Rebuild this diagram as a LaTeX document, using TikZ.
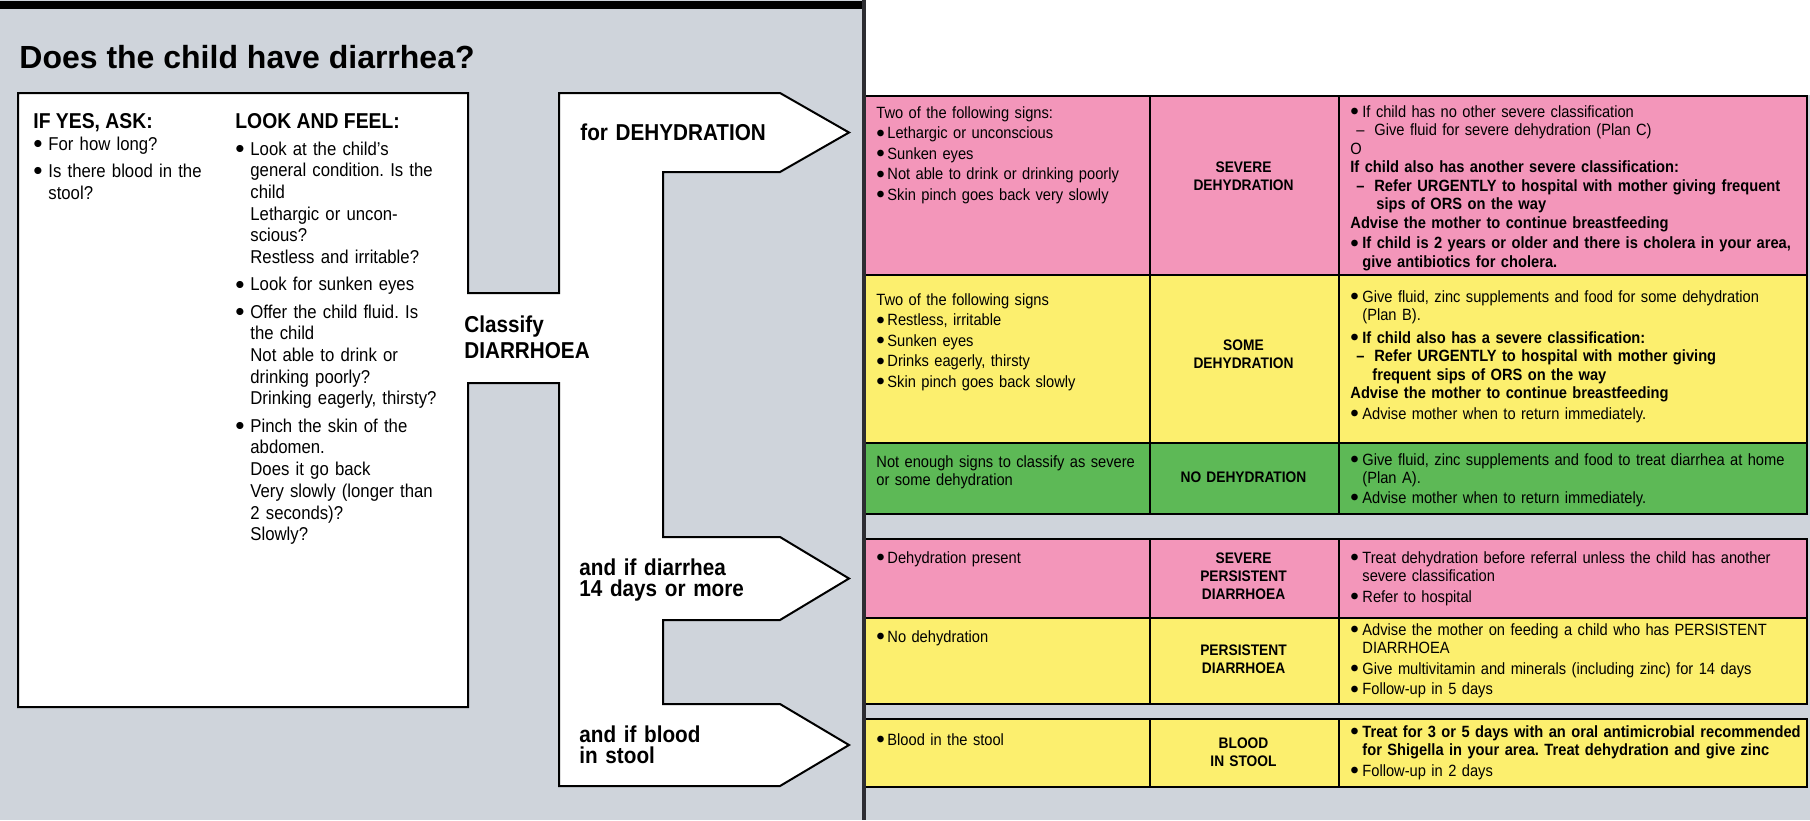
\documentclass[tikz,border=0pt]{standalone}
\usepackage{fontspec}
\setmainfont{Liberation Sans}
\newfontfamily\condfont{Liberation Sans}[FakeStretch=0.9]
\usepackage{tikz}
\frenchspacing

\definecolor{bggrey}{RGB}{207,212,219}
\definecolor{divgrey}{RGB}{45,45,50}
\definecolor{sevpink}{RGB}{243,150,186}
\definecolor{midyellow}{RGB}{252,239,110}
\definecolor{okgreen}{RGB}{93,185,86}

\newcommand{\bigdot}{\raisebox{0.08em}{$\bullet$}}
\newcommand{\lbul}{\makebox[7.5pt][l]{\bigdot}}
\newcommand{\lind}{\hspace*{7.5pt}}
\newcommand{\tbul}{\makebox[5.5pt][l]{\bigdot}}
\newcommand{\cbul}{\makebox[6pt][l]{\bigdot}}
\newcommand{\cind}{\hspace*{6pt}}
\newcommand{\cdash}{\hspace*{3pt}\makebox[9pt][l]{–}}

\tikzset{
	lefthead/.style={anchor=base west, inner sep=0pt, font=\condfont\bfseries\fontsize{10.75}{12}\selectfont},
	lefttxt/.style={anchor=base west, inner sep=0pt, text width=110pt, align=left, font=\condfont\fontsize{9.3}{10.85}\selectfont},
	armtxt/.style={anchor=base west, inner sep=0pt, text width=96pt, align=left, font=\condfont\bfseries\fontsize{11.5}{10.75}\selectfont},
	celltxt/.style={anchor=base west, inner sep=0pt, text width=134pt, align=left, font=\condfont\fontsize{8.15}{9.25}\selectfont},
	treattxt/.style={celltxt, text width=228.5pt},
	classtxt/.style={anchor=base, inner sep=0pt, text width=90pt, align=center, font=\condfont\bfseries\fontsize{7.65}{9.2}\selectfont},
	cellbox/.style={draw=black, line width=1pt},
}

\begin{document}
\begin{tikzpicture}[x=0.5pt, y=-0.5pt]
		\useasboundingbox (0,0) rectangle (1810,820);
		\fill[bggrey] (0,0) rectangle (1810,820);
		\fill[white] (864,0) rectangle (1810,95);
		\fill[black] (0,1) rectangle (864,9);
		
		% question box joined to the three arms
		\draw[line width=1pt, fill=white] (18,93) -| (468,293) -| (559,93) -- (780,93) -- (849,132.5) -- (780,172)
			-| (663,537) -- (780,537) -- (849,578.5) -- (780,620)
			-| (663,704) -- (780,704) -- (849,745) -- (780,786)
			-| (559,383) -| (468,707) -- (18,707) -- cycle;
		
		\fill[sevpink] (864,96) rectangle (1807,275);
		\fill[midyellow] (864,275) rectangle (1807,443);
		\fill[okgreen] (864,443) rectangle (1807,514);
		\fill[sevpink] (864,539) rectangle (1807,618);
		\fill[midyellow] (864,618) rectangle (1807,704);
		\fill[midyellow] (864,719) rectangle (1807,787);
		
		\draw[cellbox] (864,275) -- (1807,275);
		\draw[cellbox] (864,443) -- (1807,443);
		\draw[cellbox] (864,618) -- (1807,618);
		\foreach \ya/\yb in {96/514, 539/704, 719/787} {
			\draw[cellbox] (864,\ya) rectangle (1807,\yb);
			\draw[cellbox] (1149.5,\ya) -- (1149.5,\yb);
			\draw[cellbox] (1338.5,\ya) -- (1338.5,\yb);
		}
		
		\fill[divgrey] (862,0) rectangle (866,820);
		
		\node[anchor=base west, inner sep=0pt, font=\bfseries\fontsize{16}{18}\selectfont] (title) at (19,68) {Does the child have diarrhea?};
		
		\node[lefthead] (askhead) at (33,128) {IF YES, ASK:};
		\node[lefthead] (lookhead) at (235,128) {LOOK AND FEEL:};
		\node[lefttxt, text width=95pt] (asklist) at (33,150) {\lbul For how long?\\[2.8pt]
			\lbul Is there blood in the\\ \lind stool?};
		\node[lefttxt] (looklist) at (235,155) {\lbul Look at the child’s\\ \lind general condition. Is the\\ \lind child\\ \lind Lethargic or uncon-\\ \lind scious?\\ \lind Restless and irritable?\\[2.8pt]
			\lbul Look for sunken eyes\\[2.8pt]
			\lbul Offer the child fluid. Is\\ \lind the child\\ \lind Not able to drink or\\ \lind drinking poorly?\\ \lind Drinking eagerly, thirsty?\\[2.8pt]
			\lbul Pinch the skin of the\\ \lind abdomen.\\ \lind Does it go back\\ \lind Very slowly (longer than\\ \lind 2 seconds)?\\ \lind Slowly?};
		
		\node[armtxt] (fordehyd) at (580,140) {for DEHYDRATION};
		\node[armtxt, text width=66pt, font=\condfont\bfseries\fontsize{11.5}{13.4}\selectfont] (classify) at (464,332) {Classify\\DIARRHOEA};
		\node[armtxt] (ifpersist) at (579,575) {and if diarrhea\\14 days or more};
		\node[armtxt] (ifblood) at (579,742) {and if blood\\in stool};
		
		\node[celltxt] (sevsigns) at (876,118) {Two of the following signs:\\[1pt]
			\tbul Lethargic or unconscious\\[1pt] \tbul Sunken eyes\\[1pt]
			\tbul Not able to drink or drinking poorly\\[1pt] \tbul Skin pinch goes back very slowly};
		\node[classtxt] (sevclass) at (1243.5,172) {SEVERE\\DEHYDRATION};
		\node[treattxt] (sevtreat) at (1350,117) {\cbul If child has no other severe classification\\
			\cdash Give fluid for severe dehydration (Plan C)\\
			O\\
			\textbf{If child also has another severe classification:}\\
			\textbf{\cdash Refer URGENTLY to hospital with mother giving frequent}\\
			\textbf{\hspace*{13pt}sips of ORS on the way}\\
			\textbf{Advise the mother to continue breastfeeding}\\[1pt]
			\cbul\textbf{If child is 2 years or older and there is cholera in your area,}\\
			\cind\textbf{give antibiotics for cholera.}};
		
		\node[celltxt] (somesigns) at (876,305) {Two of the following signs\\[1pt]
			\tbul Restless, irritable\\[1pt] \tbul Sunken eyes\\[1pt]
			\tbul Drinks eagerly, thirsty\\[1pt] \tbul Skin pinch goes back slowly};
		\node[classtxt] (someclass) at (1243.5,350) {SOME\\DEHYDRATION};
		\node[treattxt] (sometreat) at (1350,302) {\cbul Give fluid, zinc supplements and food for some dehydration\\
			\cind (Plan B).\\[2pt]
			\cbul\textbf{If child also has a severe classification:}\\
			\textbf{\cdash Refer URGENTLY to hospital with mother giving}\\
			\textbf{\hspace*{11pt}frequent sips of ORS on the way}\\
			\textbf{Advise the mother to continue breastfeeding}\\[1pt]
			\cbul Advise mother when to return immediately.};
		
		\node[celltxt] (nosigns) at (876,467) {Not enough signs to classify as severe\\or some dehydration};
		\node[classtxt] (noclass) at (1243.5,482) {NO DEHYDRATION};
		\node[treattxt] (notreat) at (1350,465) {\cbul Give fluid, zinc supplements and food to treat diarrhea at home\\
			\cind (Plan A).\\[0.6pt]
			\cbul Advise mother when to return immediately.};
		
		\node[celltxt] (sevpsigns) at (876,563) {\tbul Dehydration present};
		\node[classtxt] (sevpclass) at (1243.5,563) {SEVERE\\PERSISTENT\\DIARRHOEA};
		\node[treattxt] (sevptreat) at (1350,563) {\cbul Treat dehydration before referral unless the child has another\\
			\cind severe classification\\[1pt]
			\cbul Refer to hospital};
		
		\node[celltxt] (persigns) at (876,642) {\tbul No dehydration};
		\node[classtxt] (perclass) at (1243.5,655) {PERSISTENT\\DIARRHOEA};
		\node[treattxt] (pertreat) at (1350,635) {\cbul Advise the mother on feeding a child who has PERSISTENT\\
			\cind DIARRHOEA\\[1pt]
			\cbul Give multivitamin and minerals (including zinc) for 14 days\\[1pt]
			\cbul Follow-up in 5 days};
		
		\node[celltxt] (bloodsigns) at (876,745) {\tbul Blood in the stool};
		\node[classtxt] (bloodclass) at (1243.5,748) {BLOOD\\IN STOOL};
		\node[treattxt] (bloodtreat) at (1350,737) {\cbul\textbf{Treat for 3 or 5 days with an oral antimicrobial recommended}\\
			\cind\textbf{for Shigella in your area. Treat dehydration and give zinc}\\[1pt]
			\cbul Follow-up in 2 days};
\end{tikzpicture}
\end{document}
